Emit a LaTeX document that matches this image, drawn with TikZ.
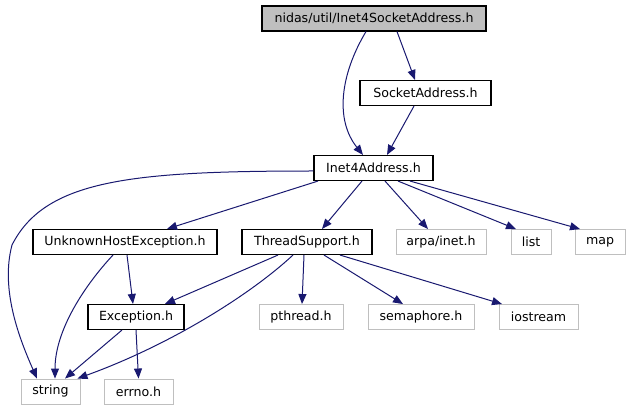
\documentclass[tikz,border=0pt]{standalone}
\usepackage{fontspec}
\setmainfont{DejaVu Sans}
\usepackage{tikz}
\usetikzlibrary{arrows.meta}
\definecolor{DoxEdge}{HTML}{191970}
\definecolor{DoxGray}{HTML}{BFBFBF}
\definecolor{DoxRoot}{HTML}{BFBFBF}

\begin{document}
\begin{tikzpicture}[x=1pt,y=-1pt,>={Triangle[length=10pt,width=8pt]}]
  \tikzstyle{hdr}=[draw=black,line width=1.1pt,fill=white,minimum height=25pt,
    inner sep=0pt,font=\fontsize{12.6}{14}\selectfont]
  \tikzstyle{ext}=[hdr,draw=DoxGray,line width=0.9pt]
  \tikzstyle{rootbox}=[hdr,fill=DoxRoot]
  \tikzstyle{dep}=[->,draw=DoxEdge,line width=1pt]
  \useasboundingbox (0,0) rectangle (631,411);
  % files of the project
  \node[rootbox,minimum width=224pt] (root) at (374,18.5) {nidas/util/Inet4SocketAddress.h};
  \node[hdr,minimum width=131pt] (sock) at (425.5,93) {SocketAddress.h};
  \node[hdr,minimum width=119pt] (inet) at (373.5,168) {Inet4Address.h};
  \node[hdr,minimum width=184pt] (uhe) at (125,242) {UnknownHostException.h};
  \node[hdr,minimum width=130pt] (thr) at (307,242) {ThreadSupport.h};
  \node[hdr,minimum width=96pt] (exc) at (136,317) {Exception.h};
  % system headers
  \node[ext,minimum width=90pt] (arpa) at (441,242) {arpa/inet.h};
  \node[ext,minimum width=40pt] (list) at (531,242) {list};
  \node[ext,minimum width=50pt] (map) at (600,242) {map};
  \node[ext,minimum width=84pt] (pth) at (301,317) {pthread.h};
  \node[ext,minimum width=106pt] (sem) at (421,317) {semaphore.h};
  \node[ext,minimum width=79pt] (ios) at (538.5,317) {iostream};
  \node[ext,minimum width=59pt] (str) at (50.5,391.5) {string};
  \node[ext,minimum width=69pt] (errno) at (138.5,391.5) {errno.h};
  % include edges
  \draw[dep] ([xshift=23pt]root.south) -- ([xshift=-10.5pt]sock.north);
  \draw[dep] ([xshift=-8pt]root.south) .. controls (340,75) and (335,120) .. ([xshift=-10.5pt]inet.north);
  \draw[dep] ([xshift=-11.5pt]sock.south) -- ([xshift=13.5pt]inet.north);
  \draw[dep] ([yshift=-3pt]inet.west) .. controls (130,171) and (45,180) .. (12,245)
    .. controls (0,290) and (20,340) .. ([xshift=-13.5pt]str.north);
  \draw[dep] ([xshift=-55.5pt]inet.south) -- ([xshift=42pt]uhe.north);
  \draw[dep] ([xshift=-11.5pt]inet.south) -- ([xshift=15pt]thr.north);
  \draw[dep] ([xshift=11.5pt]inet.south) -- ([xshift=-13pt]arpa.north);
  \draw[dep] ([xshift=24.5pt]inet.south) -- ([xshift=-15pt]list.north);
  \draw[dep] ([xshift=36.5pt]inet.south) -- ([xshift=-20pt]map.north);
  \draw[dep] ([xshift=2pt]uhe.south) -- ([xshift=-3pt]exc.north);
  \draw[dep] ([xshift=-12pt]uhe.south) .. controls (85,285) and (55,330) .. ([xshift=4.5pt]str.north);
  \draw[dep] ([xshift=-29pt]thr.south) -- ([xshift=29pt]exc.north);
  \draw[dep] ([xshift=-14pt]thr.south) .. controls (250,295) and (170,345) .. ([xshift=-3pt]str.north east);
  \draw[dep] ([xshift=-3pt]thr.south) -- ([xshift=1pt]pth.north);
  \draw[dep] ([xshift=17pt]thr.south) -- ([xshift=-18pt]sem.north);
  \draw[dep] ([xshift=33pt]thr.south) -- ([xshift=-36.5pt]ios.north);
  \draw[dep] ([xshift=-14pt]exc.south) -- ([xshift=14.5pt]str.north);
  \draw[dep] (exc.south) -- (errno.north);
\end{tikzpicture}
\end{document}
